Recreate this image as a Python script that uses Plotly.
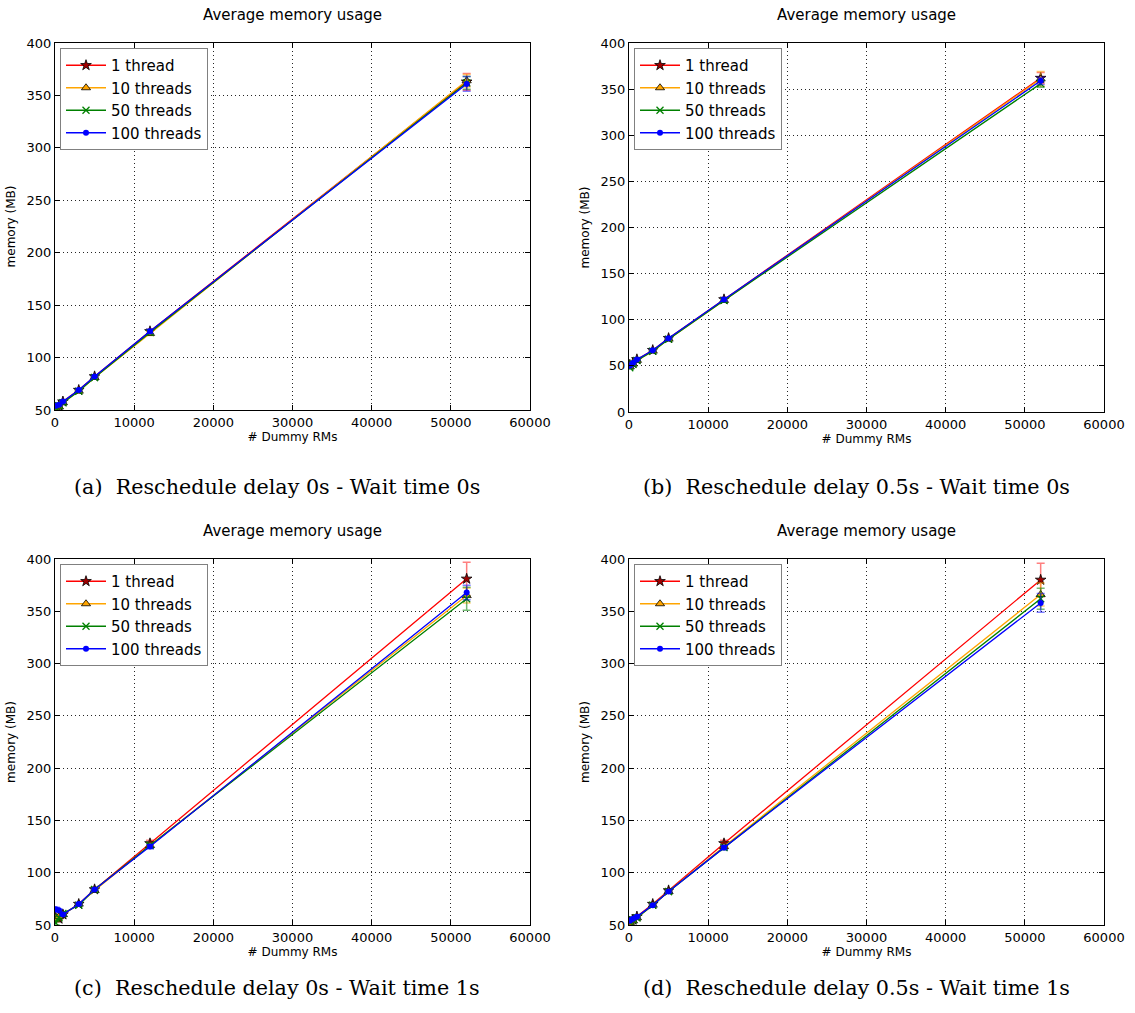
import plotly.graph_objects as go

# Number of dummy resource managers (x positions shared by every panel)
dummy_rms = [100, 500, 1000, 3000, 5000, 12000, 52000]

series_names = ["1 thread", "10 threads", "50 threads", "100 threads"]

# (a) Reschedule delay 0s - Wait time 0s
a_t1 = [52, 54, 58, 69, 82, 125, 363]
a_t1_err = [1, 1, 1, 1, 1.5, 2, 8]
a_t10 = [51, 53, 57, 68, 81, 123, 364]
a_t10_err = [1, 1, 1, 1, 1, 2, 6]
a_t50 = [52, 54, 57, 68, 81, 124, 362]
a_t50_err = [1, 1, 1, 1, 1, 2, 6]
a_t100 = [54, 55, 58, 69, 82, 125, 361]
a_t100_err = [1, 1, 1, 1, 1, 2, 7]

# (b) Reschedule delay 0.5s - Wait time 0s
b_t1 = [51, 53, 57, 67, 80, 122, 362]
b_t1_err = [1, 1, 1, 1, 1, 2, 6]
b_t10 = [49, 52, 56, 66, 79, 121, 361]
b_t10_err = [1, 1, 1, 1, 1, 2, 8]
b_t50 = [48, 52, 56, 66, 79, 121, 356]
b_t50_err = [1, 1, 1, 1, 1, 2, 4]
b_t100 = [50, 53, 57, 67, 80, 122, 359]
b_t100_err = [1, 1, 1, 1, 1, 2, 4]

# (c) Reschedule delay 0s - Wait time 1s
c_t1 = [57, 56, 60, 70, 84, 128, 381]
c_t1_err = [2, 1, 1, 1, 2, 3, 16]
c_t10 = [55, 58, 60, 70, 83, 126, 365]
c_t10_err = [2, 1, 1, 1, 1, 2, 7]
c_t50 = [52, 57, 61, 69, 84, 126, 362]
c_t50_err = [2, 1, 1, 1, 1, 2, 11]
c_t100 = [65, 64, 60, 70, 84, 125, 368]
c_t100_err = [2, 1, 1, 1, 1, 2, 7]

# (d) Reschedule delay 0.5s - Wait time 1s
d_t1 = [53, 55, 58, 70, 83, 128, 380]
d_t1_err = [1, 1, 1, 1, 1, 3, 16]
d_t10 = [52, 54, 57, 69, 82, 125, 366]
d_t10_err = [1, 1, 1, 1, 1, 2, 11]
d_t50 = [53, 55, 57, 69, 82, 124, 362]
d_t50_err = [1, 1, 1, 1, 1, 2, 10]
d_t100 = [54, 56, 58, 69, 82, 124, 358]
d_t100_err = [1, 1, 1, 1, 1, 2, 9]

x_ticks = [0, 10000, 20000, 30000, 40000, 50000, 60000]
y_ticks = [0, 50, 100, 150, 200, 250, 300, 350, 400]

captions = [
    "(a)\u00a0\u00a0Reschedule delay 0s - Wait time 0s",
    "(b)\u00a0\u00a0Reschedule delay 0.5s - Wait time 0s",
    "(c)\u00a0\u00a0Reschedule delay 0s - Wait time 1s",
    "(d)\u00a0\u00a0Reschedule delay 0.5s - Wait time 1s",
]
panel_title = "Average memory usage"
x_title = "# Dummy RMs"
y_title = "memory (MB)"

panels = [
    ([a_t1, a_t10, a_t50, a_t100], [a_t1_err, a_t10_err, a_t50_err, a_t100_err], [50, 400]),
    ([b_t1, b_t10, b_t50, b_t100], [b_t1_err, b_t10_err, b_t50_err, b_t100_err], [0, 400]),
    ([c_t1, c_t10, c_t50, c_t100], [c_t1_err, c_t10_err, c_t50_err, c_t100_err], [50, 400]),
    ([d_t1, d_t10, d_t50, d_t100], [d_t1_err, d_t10_err, d_t50_err, d_t100_err], [50, 400]),
]

# Per-series styling: line colour, error bar colour, marker
styles = [
    dict(color="#ff0000", err="rgba(255,0,0,0.5)",
         marker=dict(symbol="star", size=8, color="#a00000", line=dict(color="black", width=0.8))),
    dict(color="#ffa500", err="rgba(255,165,0,0.55)",
         marker=dict(symbol="triangle-up", size=8, color="#ffa500", line=dict(color="black", width=0.8))),
    dict(color="#008000", err="rgba(0,128,0,0.55)",
         marker=dict(symbol="x-thin", size=7, color="#008000", line=dict(color="#008000", width=1.3))),
    dict(color="#0000ff", err="rgba(0,0,255,0.5)",
         marker=dict(symbol="circle", size=6, color="#0000ff", line=dict(color="#0000ff", width=0))),
]

W, H = 1135, 1013
# plot areas in pixels: (left, right, top, bottom)
boxes = [
    (55, 530, 43, 410),
    (629, 1104, 43, 412),
    (55, 530, 559, 925),
    (629, 1104, 559, 925),
]
caption_pos = [(277, 487), (856, 487), (277, 988), (856, 988)]

FONT = "DejaVu Sans"
SERIF = "DejaVu Serif"

fig = go.Figure()
layout = dict(
    width=W, height=H,
    margin=dict(l=0, r=0, t=0, b=0, autoexpand=False),
    paper_bgcolor="white", plot_bgcolor="white",
    font=dict(family=FONT, size=13, color="black"),
    annotations=[],
)

for i, (ys, errs, yrange) in enumerate(panels):
    n = i + 1
    xa = "x" if n == 1 else f"x{n}"
    ya = "y" if n == 1 else f"y{n}"
    leg = "legend" if n == 1 else f"legend{n}"
    for name, yv, ev, st in zip(series_names, ys, errs, styles):
        fig.add_trace(go.Scatter(
            x=dummy_rms, y=yv, name=name, mode="lines+markers",
            xaxis=xa, yaxis=ya, legend=leg,
            line=dict(color=st["color"], width=1.3),
            marker=st["marker"],
            error_y=dict(type="data", array=ev, visible=True,
                         color=st["err"], thickness=1.5, width=4),
        ))
    l, r, t, b = boxes[i]
    xdom = [l / W, r / W]
    ydom = [1 - b / H, 1 - t / H]
    axis_common = dict(
        showline=True, linecolor="black", linewidth=1.2, mirror="allticks",
        ticks="inside", ticklen=5, tickcolor="black", tickwidth=1,
        showgrid=True, gridcolor="rgba(0,0,0,0.85)", griddash="1px,3px", gridwidth=1,
        zeroline=False, automargin=False, tickfont=dict(family=FONT, size=13),
    )
    layout["xaxis" if n == 1 else f"xaxis{n}"] = dict(
        axis_common, domain=xdom, anchor=ya, range=[0, 60000],
        tickvals=x_ticks, ticktext=[str(v) for v in x_ticks],
        title=dict(text=x_title, font=dict(family=FONT, size=12), standoff=2),
    )
    layout["yaxis" if n == 1 else f"yaxis{n}"] = dict(
        axis_common, domain=ydom, anchor=xa, range=yrange,
        tickvals=[v for v in y_ticks if v >= yrange[0]],
        title=dict(text=y_title, font=dict(family=FONT, size=12), standoff=8),
    )
    layout[leg] = dict(
        x=(l + 5) / W, y=1 - (t + 5) / H, xanchor="left", yanchor="top",
        bgcolor="white", bordercolor="#808080", borderwidth=1,
        font=dict(family=FONT, size=15), itemwidth=40,
        tracegroupgap=0,
    )
    layout["annotations"].append(dict(
        text=panel_title, xref="paper", yref="paper",
        x=(l + r) / 2 / W, y=1 - (t - 28) / H, xanchor="center", yanchor="middle",
        showarrow=False, font=dict(family=FONT, size=15),
    ))
    cx, cy = caption_pos[i]
    layout["annotations"].append(dict(
        text=captions[i], xref="paper", yref="paper",
        x=cx / W, y=1 - cy / H, xanchor="center", yanchor="middle",
        showarrow=False, font=dict(family=SERIF, size=20.7),
    ))

fig.update_layout(**layout)
fig.write_html("out.html")
